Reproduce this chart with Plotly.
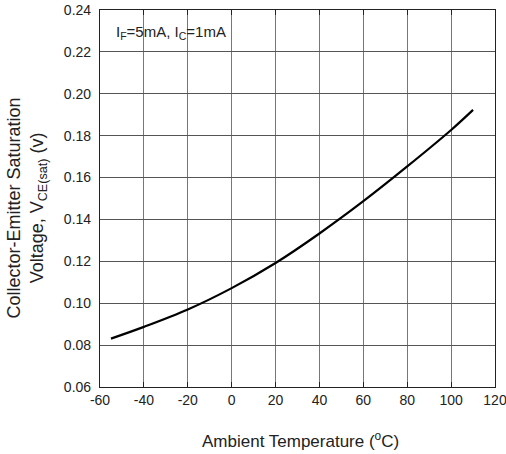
import plotly.graph_objects as go

temps = [-55, -40, -20, 0, 20, 40, 60, 80, 100, 110]
vce = [0.0831, 0.0887, 0.0970, 0.1072, 0.1192, 0.1333, 0.1487, 0.1653, 0.1827, 0.1923]

x_ticks = [-60, -40, -20, 0, 20, 40, 60, 80, 100, 120]
y_ticks = [0.06, 0.08, 0.10, 0.12, 0.14, 0.16, 0.18, 0.20, 0.22, 0.24]

fnt = "Liberation Sans, Arial, sans-serif"
txt = "#222"

fig = go.Figure()
fig.add_trace(go.Scatter(x=temps, y=vce, mode="lines",
                         line=dict(color="black", width=2.2, shape="spline", smoothing=1.0),
                         showlegend=False, hoverinfo="skip"))

fig.update_layout(
    width=506, height=454,
    margin=dict(l=100, r=11, t=10, b=67),
    paper_bgcolor="white", plot_bgcolor="white",
    font=dict(family=fnt, size=14, color=txt),
    xaxis=dict(range=[-60, 120], tickvals=x_ticks, ticktext=[str(v) for v in x_ticks],
               automargin=False, ticklabeloverflow="allow",
               showgrid=True, gridcolor="#777", gridwidth=1.2, zeroline=False,
               showline=True, linecolor="#222", linewidth=1.2, mirror="ticks",
               ticks="inside", ticklen=5, tickcolor="#222", tickwidth=1.2,
               tickfont=dict(family=fnt, size=14, color=txt)),
    yaxis=dict(range=[0.06, 0.24], tickvals=y_ticks, ticktext=["%.2f" % v for v in y_ticks],
               automargin=False, ticklabeloverflow="allow",
               showgrid=True, gridcolor="#555", gridwidth=1.2, zeroline=False,
               showline=True, linecolor="#222", linewidth=1.2, mirror=True,
               ticks="", ticklabelstandoff=5,
               tickfont=dict(family=fnt, size=14, color=txt)),
    annotations=[
        dict(text="I<sub>F</sub>=5mA, I<sub>C</sub>=1mA", xref="paper", yref="paper",
             x=0.035, y=0.94, xanchor="left", yanchor="middle", showarrow=False,
             font=dict(family=fnt, size=15, color=txt)),
        dict(text="Ambient Temperature (<sup>o</sup>C)", xref="paper", yref="paper",
             x=0.507, y=-0.14, xanchor="center", yanchor="middle", showarrow=False,
             font=dict(family=fnt, size=17, color=txt)),
        dict(text="Collector-Emitter Saturation<br>Voltage, V<sub>CE(sat)</sub> (v)", xref="paper", yref="paper",
             x=-0.186, y=0.475, xanchor="center", yanchor="middle", showarrow=False, textangle=-90,
             font=dict(family=fnt, size=18, color=txt)),
    ],
)

fig.write_html("out.html", config={"displayModeBar": False},
               post_script="document.body.style.margin='0';document.body.style.overflow='hidden';")
